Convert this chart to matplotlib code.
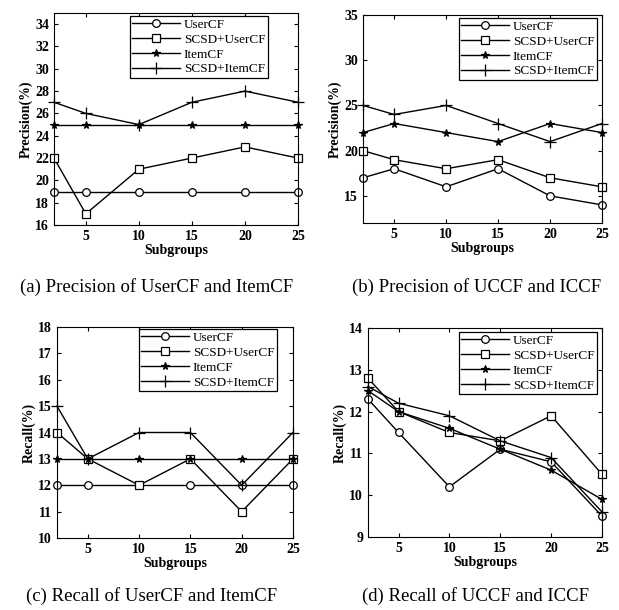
import numpy as np
import matplotlib
matplotlib.use("Agg")
import matplotlib.pyplot as plt

plt.rcParams['font.family'] = ['Liberation Serif', 'DejaVu Serif']

x = [2, 5, 10, 15, 20, 25]
names = ["UserCF", "SCSD+UserCF", "ItemCF", "SCSD+ItemCF"]

# (a) precision
a_user = [19, 19, 19, 19, 19, 19]
a_scsd_user = [22, 17, 21, 22, 23, 22]
a_item = [25, 25, 25, 25, 25, 25]
a_scsd_item = [27, 26, 25, 27, 28, 27]

# (b) precision UCCF / ICCF
b_user = [17, 18, 16, 18, 15, 14]
b_scsd_user = [20, 19, 18, 19, 17, 16]
b_item = [22, 23, 22, 21, 23, 22]
b_scsd_item = [25, 24, 25, 23, 21, 23]

# (c) recall
c_user = [12, 12, 12, 12, 12, 12]
c_scsd_user = [14, 13, 12, 13, 11, 13]
c_item = [13, 13, 13, 13, 13, 13]
c_scsd_item = [15, 13, 14, 14, 12, 14]

# (d) recall UCCF / ICCF
d_user = [12.3, 11.5, 10.2, 11.1, 10.8, 9.5]
d_scsd_user = [12.8, 12.0, 11.5, 11.3, 11.9, 10.5]
d_item = [12.5, 12.0, 11.6, 11.1, 10.6, 9.9]
d_scsd_item = [12.6, 12.2, 11.9, 11.3, 10.9, 9.6]

W, H = 619, 610
fig = plt.figure(figsize=(W / 100, H / 100), dpi=100)

def px_axes(l, t, r, b):
    return fig.add_axes([l / W, 1 - b / H, (r - l) / W, (b - t) / H])

# axes, data, ylim, yticks, ylabel, caption, caption x/y (px), legend anchor
panels = [
    (px_axes(54, 13, 298, 225), [a_user, a_scsd_user, a_item, a_scsd_item],
     (16, 35), np.arange(16, 35, 2), "Precision(%)",
     "(a) Precision of UserCF and ItemCF", (157, 287), (0.877, 0.986)),
    (px_axes(363, 15, 602, 223), [b_user, b_scsd_user, b_item, b_scsd_item],
     (12, 35), [15, 20, 25, 30, 35], "Precision(%)",
     "(b) Precision of UCCF and ICCF", (477, 287), (0.979, 0.986)),
    (px_axes(57, 327, 293, 538), [c_user, c_scsd_user, c_item, c_scsd_item],
     (10, 18), np.arange(10, 19, 1), "Recall(%)",
     "(c) Recall of UserCF and ItemCF", (152, 596), (0.932, 0.99)),
    (px_axes(368, 328, 602, 537), [d_user, d_scsd_user, d_item, d_scsd_item],
     (9, 14), np.arange(9, 15, 1), "Recall(%)",
     "(d) Recall of UCCF and ICCF", (475, 596), (0.979, 0.98)),
]

styles = [
    dict(marker='o', mfc='white', ms=5.5),
    dict(marker='s', mfc='white', ms=6),
    dict(marker='*', mfc='black', ms=5.5),
    dict(marker='+', ms=8),
]

for ax, series, ylim, yt, ylab, cap, cap_xy, anchor in panels:
    for s, nm, st in zip(series, names, styles):
        ax.plot(x, s, color='black', lw=1.0, mec='black', mew=0.9, label=nm,
                clip_on=False, **st)
    ax.set_xlim(2, 25)
    ax.set_ylim(*ylim)
    ax.set_xticks([5, 10, 15, 20, 25])
    ax.set_yticks(yt)
    ax.tick_params(direction='in', top=True, right=True, labelsize=10, length=3)
    for lab in ax.get_xticklabels() + ax.get_yticklabels():
        lab.set_fontweight('bold')
    ax.set_xlabel("Subgroups", fontsize=10, fontweight='bold', labelpad=1)
    ax.set_ylabel(ylab, fontsize=10, fontweight='bold', labelpad=2)
    leg = ax.legend(loc='upper right', bbox_to_anchor=anchor, fontsize=9.5,
                    fancybox=False, framealpha=1, edgecolor='black',
                    handlelength=3.6, borderpad=0.2, labelspacing=0.2,
                    handletextpad=0.3, borderaxespad=0.0)
    leg.get_frame().set_linewidth(0.9)
    fig.text(cap_xy[0] / W, 1 - cap_xy[1] / H, cap, ha='center',
             va='center', fontsize=13.5)

fig.savefig("out.png", dpi=100)
